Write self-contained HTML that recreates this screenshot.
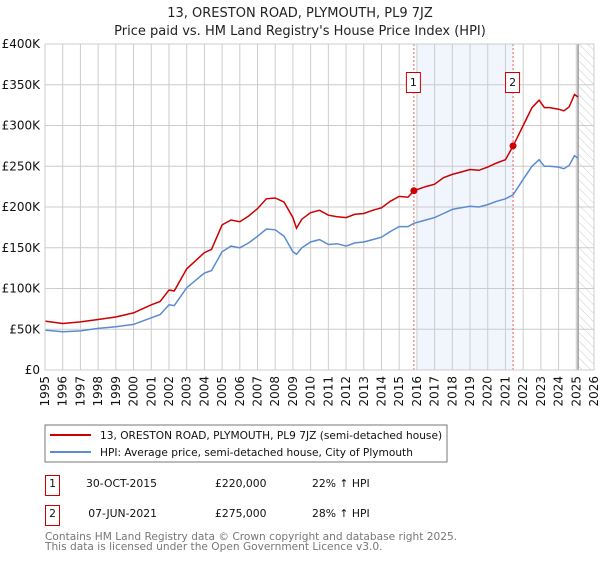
<!DOCTYPE html>
<html><head><meta charset="utf-8"><style>
body{margin:0;background:#fff;width:600px;height:560px;overflow:hidden;font-family:"DejaVu Sans","Liberation Sans",sans-serif}
svg text{font-family:"DejaVu Sans","Liberation Sans",sans-serif}
</style></head><body>
<svg id="c" width="600" height="560">
<defs><pattern id="hatch" width="6" height="6" patternUnits="userSpaceOnUse" patternTransform="rotate(-45)"><line x1="0" y1="0" x2="0" y2="6" stroke="#ccc" stroke-width="1"/></pattern></defs>
<text x="300" y="17" text-anchor="middle" font-size="13" fill="#222">13, ORESTON ROAD, PLYMOUTH, PL9 7JZ</text>
<text x="300" y="35" text-anchor="middle" font-size="13" fill="#222">Price paid vs. HM Land Registry's House Price Index (HPI)</text>
<g id="plot"></g>
<rect x="45" y="425" width="402" height="37" fill="#fff" stroke="#777"/>
<line x1="50" y1="435" x2="91" y2="435" stroke="#cc0000" stroke-width="2"/>
<text x="100" y="439" font-size="10.6" fill="#111">13, ORESTON ROAD, PLYMOUTH, PL9 7JZ (semi-detached house)</text>
<line x1="50" y1="452" x2="91" y2="452" stroke="#5b8bd0" stroke-width="2"/>
<text x="100" y="456" font-size="10.6" fill="#111">HPI: Average price, semi-detached house, City of Plymouth</text>
<g font-size="10.8" fill="#111">
<rect x="45.5" y="475.5" width="14" height="20" fill="#fff" stroke="#cc0000"/>
<text x="52.5" y="487" text-anchor="middle">1</text>
<text x="157" y="487" text-anchor="end">30-OCT-2015</text>
<text x="215" y="487">£220,000</text>
<text x="312" y="487">22% ↑ HPI</text>
<rect x="45.5" y="505.5" width="14" height="20" fill="#fff" stroke="#cc0000"/>
<text x="52.5" y="517" text-anchor="middle">2</text>
<text x="157" y="517" text-anchor="end">07-JUN-2021</text>
<text x="215" y="517">£275,000</text>
<text x="312" y="517">28% ↑ HPI</text>
</g>
<text x="45" y="540" font-size="10.6" fill="#777">Contains HM Land Registry data © Crown copyright and database right 2025.</text>
<text x="45" y="550" font-size="10.6" fill="#777">This data is licensed under the Open Government Licence v3.0.</text>
</svg>
<script>
const hpiDates=[1995,1996,1997,1998,1999,2000,2001,2001.5,2002,2002.3,2003,2004,2004.4,2005,2005.5,2006,2006.5,2007,2007.5,2008,2008.5,2009,2009.2,2009.5,2010,2010.5,2011,2011.5,2012,2012.5,2013,2013.5,2014,2014.5,2015,2015.5,2015.83,2016.5,2017,2017.5,2018,2018.5,2019,2019.5,2020,2020.5,2021,2021.43,2022,2022.5,2022.9,2023.2,2023.5,2024,2024.3,2024.6,2024.9,2025.1];
const hpiValues=[49,47,48,51,53,56,64,68,80,79,101,119,122,145,152,150,156,164,173,172,164,145,142,150,157,160,154,155,152,156,157,160,163,170,176,176,180,184,187,192,197,199,201,200,203,207,210,215,234,250,258,250,250,249,247,251,263,260];
const propValues=[60,57,59,62,65,70,80,84,98,97,124,144,148,178,184,182,189,198,210,211,206,187,174,185,193,196,190,188,187,191,192,196,199,207,213,212,220,225,228,236,240,243,246,245,249,254,258,275,300,322,331,322,322,320,318,323,338,335];
const saleDates=[2015.83,2021.43];
const saleValues=[220,275];
const yTicks=[0,50,100,150,200,250,300,350,400];
const yTickLabels=["£0","£50K","£100K","£150K","£200K","£250K","£300K","£350K","£400K"];
const xTicks=[1995,1996,1997,1998,1999,2000,2001,2002,2003,2004,2005,2006,2007,2008,2009,2010,2011,2012,2013,2014,2015,2016,2017,2018,2019,2020,2021,2022,2023,2024,2025,2026];

const L=45,R=594,T=44,B=370;
const X=d=>L+(d-1995)/(2026-1995)*(R-L);
const Y=v=>B-v/400*(B-T);
const NS="http://www.w3.org/2000/svg";
const g=document.getElementById('plot');
function mk(t,a){const e=document.createElementNS(NS,t);for(const k in a)e.setAttribute(k,a[k]);g.appendChild(e);return e;}

let e=mk('rect',{x:X(2016),y:T,width:X(saleDates[1])-X(2016),height:B-T,fill:'#eef3fc',opacity:0.8});


e=mk('rect',{x:X(2025.1),y:T,width:R-X(2025.1),height:B-T,fill:'url(#hatch)'});



xTicks.forEach(d=>{
 let l=mk('line',{x1:X(d),x2:X(d),y1:T,y2:B,stroke:'#ccc','stroke-width':1});
 
 
 let t=mk('text',{x:0,y:0,'font-size':12,fill:'#111','text-anchor':'end',transform:`translate(${X(d)+4},${B+6}) rotate(-90)`});
 t.textContent=d;
 
 
});
yTicks.forEach((v,i)=>{
 let l=mk('line',{x1:L,x2:R,y1:Y(v),y2:Y(v),stroke:'#ccc','stroke-width':1});
 
 
 let t=mk('text',{x:L-5,y:Y(v)+4,'font-size':12,fill:'#111','text-anchor':'end'});
 t.textContent=yTickLabels[i];
 
 
});
e=mk('line',{x1:X(2025.1),x2:X(2025.1),y1:T,y2:B,stroke:'#999','stroke-width':1.5});



saleDates.forEach((d,i)=>{
 let l=mk('line',{x1:X(d),x2:X(d),y1:T,y2:B,stroke:'#e06060','stroke-width':1,'stroke-dasharray':'2,2'});
 
 
 let r=mk('rect',{x:X(d)-7.5,y:72.5,width:14,height:20,fill:'#fff',stroke:'#cc0000'});
 
 
 let t=mk('text',{x:X(d)-0.5,y:86,'font-size':11,fill:'#111','text-anchor':'middle'});
 t.textContent=i+1;
 
 
});

const pts=(vals)=>hpiDates.map((d,i)=>X(d).toFixed(1)+','+Y(vals[i]).toFixed(1)).join(' ');
e=mk('polyline',{points:pts(hpiValues),fill:'none',stroke:'#5b8bd0','stroke-width':1.5});


e=mk('polyline',{points:pts(propValues),fill:'none',stroke:'#cc0000','stroke-width':1.5});


saleDates.forEach((d,i)=>{
 let c=mk('circle',{cx:X(d),cy:Y(saleValues[i]),r:3.5,fill:'#cc0000'});
 
 
});
e=mk('rect',{x:L,y:T,width:R-L,height:B-T,fill:'none',stroke:'#ccc'});


</script>
</body></html>
